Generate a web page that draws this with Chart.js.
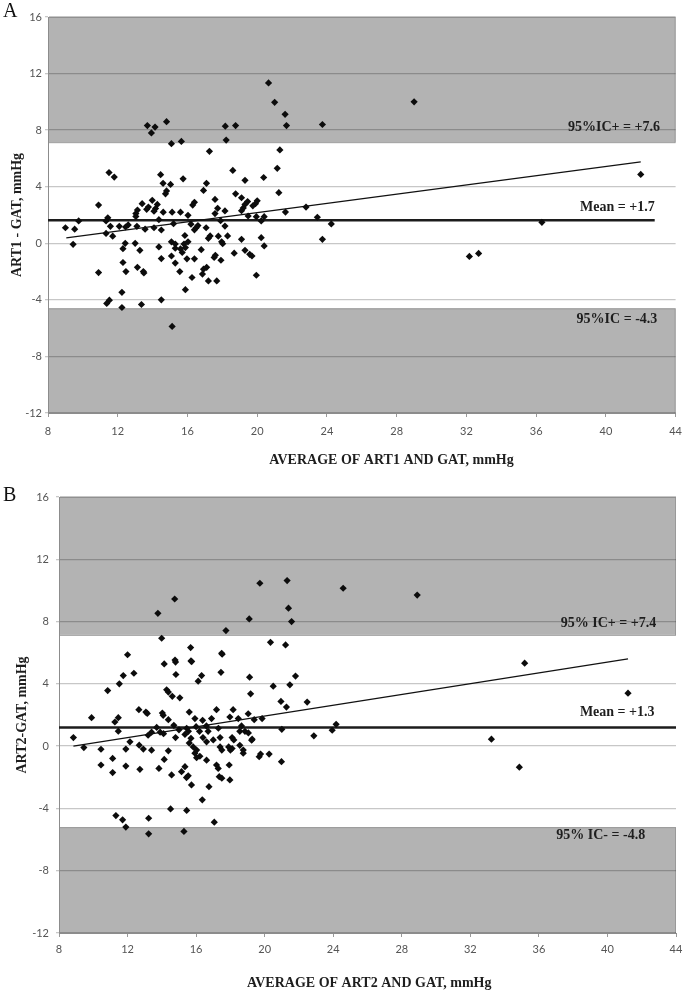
<!DOCTYPE html>
<html>
<head>
<meta charset="utf-8">
<script src="https://cdn.jsdelivr.net/npm/chart.js@4.4.1/dist/chart.umd.min.js"></script>
<style>
  html,body{margin:0;padding:0;background:#fff;}
  #wrap{position:relative;width:690px;height:992px;overflow:hidden;}
  canvas{position:absolute;left:0;}
  .panel{position:absolute;left:3px;font:20px "Liberation Serif",serif;color:#111;line-height:1;}
</style>
</head>
<body>
<div id="wrap">
  <canvas id="chartA" width="690" height="480" style="top:0"></canvas>
  <canvas id="chartB" width="690" height="512" style="top:480px"></canvas>
  <div class="panel" style="top:0px">A</div>
  <div class="panel" style="top:484px">B</div>
</div>
<script>
// ====== data: panel A (ART1 vs GAT) ======
const xA = [15.08,15.65,17.26,18.22,21.3,18.6,11.5,11.8,14.46,15.75,19.3,20.37,21.15,21.24,14.6,15.03,17.09,16.92,14.8,14.74,
  18.76,19.1,19.45,19.3,19.2,19.1,20.0,19.9,19.75,10.9,17.58,16.4,16.3,13.4,13.76,13.66,13.98,14.27,14.17,14.08,
  13.13,13.04,17.73,18.15,17.58,14.61,15.12,15.6,16.03,19.48,19.95,20.4,21.62,22.8,9.76,9.0,9.53,11.43,11.33,11.58,
  12.09,12.6,13.1,13.57,14.08,14.36,14.5,15.2,16.2,16.5,16.6,16.4,17.07,17.3,17.2,17.77,18.3,18.15,17.9,20.23,
  11.33,11.71,9.44,19.1,20.23,20.4,12.3,12.43,13.0,13.27,14.36,15.08,15.3,15.85,15.8,15.6,15.88,15.7,16.03,15.3,
  16.79,17.96,18.02,18.68,19.3,19.57,19.7,12.3,14.5,15.08,15.3,15.97,16.4,17.53,17.6,17.92,10.9,12.47,13.13,13.47,
  13.5,15.56,16.92,17.1,16.86,16.26,17.2,17.68,19.95,12.24,15.88,11.52,11.37,12.24,13.36,14.5,15.12,20.65,21.0,21.6,
  21.68,23.74,13.7,13.93,14.14,14.8,18.17,18.76,29.0,42.0,36.33,32.17,32.7,23.45,23.74,24.25,13.04,12.45];
const yA = [7.04,7.2,6.5,7.3,6.6,5.15,5.0,4.68,4.85,4.56,4.45,4.65,5.3,3.58,4.24,4.16,4.24,3.74,3.7,3.5,
  3.5,3.22,2.95,2.75,2.5,2.3,3.0,2.8,2.65,2.7,3.1,2.9,2.7,2.8,2.56,2.4,3.04,2.75,2.46,2.27,
  2.35,2.1,2.47,2.29,2.1,2.2,2.2,2.2,1.98,1.93,1.88,1.88,2.21,2.56,1.58,1.1,1.0,1.8,1.58,1.2,
  1.2,1.3,1.2,1.0,1.1,1.67,0.94,1.39,1.35,1.1,1.25,0.95,1.1,0.52,0.35,0.5,0.52,1.22,1.6,1.58,
  0.7,0.5,-0.07,0.28,0.4,-0.19,-0.38,0.0,0.0,-0.5,-0.26,0.1,-0.05,0.55,-0.05,-0.4,-0.3,-0.65,0.1,-0.35,
  -0.45,0.1,-0.03,-0.7,-0.5,-0.78,-0.9,-1.36,-1.08,-0.9,-1.4,-1.1,-1.1,-1.0,-0.85,-1.2,-2.07,-2.0,-1.7,-2.0,
  -2.1,-2.0,-1.83,-1.7,-2.18,-2.42,-2.66,-2.66,-2.26,-3.47,-3.28,-4.02,-4.25,-4.54,-4.33,-4.0,-5.88,11.34,9.97,9.12,
  8.32,8.4,8.32,7.8,8.22,8.6,8.28,8.32,10.0,4.87,1.48,-0.93,-0.72,1.84,0.28,1.37,1.9,1.15];
const meanA  = [[8, 1.62], [42.8, 1.62]];
const trendA = [[9.05, 0.38], [42.0, 5.75]];
const limitsA = [7.15, -4.6];          // shaded limits of agreement (as drawn)
const labelsA = ['95%IC+ = +7.6', 'Mean = +1.7', '95%IC = -4.3'];
const labelPosA = [[43.1, 8.2], [42.8, 2.55], [42.95, -5.4]];

// ====== data: panel B (ART2 vs GAT) ======
const xB = [12.0,14.14,14.77,14.8,15.74,17.52,17.45,14.82,11.75,12.37,16.32,16.12,19.12,11.52,10.84,20.5,21.47,21.8,14.28,14.38,
  14.61,15.05,19.18,20.95,21.27,22.48,9.9,11.26,11.46,11.46,8.84,12.66,13.07,13.15,14.03,14.08,14.38,13.7,13.4,13.2,
  13.9,14.1,14.7,14.8,15.0,15.6,15.93,16.38,16.9,17.19,18.16,17.97,18.46,19.04,19.39,19.85,15.45,15.55,15.35,15.7,
  16.0,16.2,16.6,16.7,16.4,17.3,17.4,17.0,18.1,18.2,18.65,18.55,18.85,19.05,19.24,21.0,22.87,23.94,24.17,9.45,
  10.45,12.14,11.9,12.68,12.92,13.4,14.38,15.6,15.83,16.03,15.93,16.22,16.61,16.61,17.4,17.5,17.9,18.0,18.1,18.55,
  18.75,18.75,19.68,19.76,20.26,20.98,10.45,11.13,11.13,11.9,12.72,13.83,14.14,14.57,15.15,15.35,15.44,15.54,15.73,16.03,
  17.19,17.29,17.35,17.5,17.93,17.97,16.75,16.36,14.51,15.45,11.32,11.71,11.9,13.23,13.23,15.29,17.06,13.77,14.75,13.99,
  19.72,21.31,21.39,21.57,19.1,17.74,24.58,20.34,21.22,15.68,17.49,15.7,28.9,35.17,41.2,33.23,34.86,19.27];
const yB = [5.87,5.28,5.53,5.4,5.43,5.9,4.74,4.6,4.53,4.68,4.53,4.17,4.43,4.0,3.57,3.85,3.94,4.5,3.62,3.47,
  3.2,3.1,3.36,2.87,2.51,2.83,1.83,1.55,1.83,0.96,0.55,2.34,2.19,2.1,2.13,1.98,1.7,1.2,0.9,0.7,
  0.9,0.8,1.34,0.55,1.05,2.19,1.77,1.66,1.77,2.34,2.34,1.87,1.77,2.08,1.7,1.77,1.15,0.95,0.75,0.5,
  1.25,0.95,1.3,0.95,0.55,1.15,0.55,0.4,0.55,0.4,1.3,0.95,0.95,0.85,0.38,1.08,0.66,1.02,1.4,-0.09,
  -0.2,0.28,-0.19,0.06,-0.19,-0.26,-0.3,0.2,-0.05,-0.25,-0.45,-0.65,0.28,-0.9,-0.05,-0.25,-0.05,-0.25,-0.15,0.05,
  -0.25,-0.45,-0.68,-0.51,-0.51,-1.0,-1.21,-0.79,-1.7,-1.28,-1.49,-1.43,-0.85,-1.85,-1.64,-1.32,-2.02,-1.9,-2.49,-0.74,
  -1.21,-1.43,-1.96,-2.06,-1.21,-2.17,-2.6,-3.45,-4.03,-4.13,-4.46,-4.73,-5.2,-4.63,-5.63,-5.48,-4.88,8.53,9.45,6.93,
  10.46,10.63,8.86,8.0,8.17,7.42,10.14,6.67,6.5,6.33,5.96,5.47,9.7,5.33,3.4,0.45,-1.35,0.45];
const meanB  = [[8, 1.2], [44.2, 1.2]];
const trendB = [[8.84, 0.0], [41.2, 5.6]];
const limitsB = [7.15, -5.2];
const labelsB = ['95% IC+ = +7.4', 'Mean = +1.3', '95% IC- = -4.8'];
const labelPosB = [[42.85, 7.9], [42.75, 2.15], [42.2, -5.75]];

const xTicks = [8, 12, 16, 20, 24, 28, 32, 36, 40, 44];
const yTicks = [-12, -8, -4, 0, 4, 8, 12, 16];

const serifBold = { family: '"Liberation Serif", "DejaVu Serif", serif', weight: 'bold', size: 14 };
const tickFont  = { family: 'Lato, "Open Sans", sans-serif', size: 11 };

// ====== 帯（一致限界）と注記 ======
const bandPlugin = {
  id: 'bands',
  beforeDraw(chart, args, o){
    const {ctx, chartArea:a, scales:{x, y}} = chart;
    const top = y.getPixelForValue(yTicks[yTicks.length-1]);
    const bot = y.getPixelForValue(yTicks[0]);
    const hi = y.getPixelForValue(o.limits[0]);
    const lo = y.getPixelForValue(o.limits[1]);
    ctx.save();
    ctx.fillStyle = '#b3b3b3';
    ctx.strokeStyle = '#999';
    ctx.lineWidth = 1;
    ctx.fillRect(a.left, top, a.right - a.left, hi - top);
    ctx.strokeRect(a.left + 0.5, top + 0.5, a.right - a.left - 1, hi - top);
    ctx.fillRect(a.left, lo, a.right - a.left, bot - lo);
    ctx.strokeRect(a.left + 0.5, lo + 0.5, a.right - a.left - 1, bot - lo);
    ctx.restore();
  },
  afterDraw(chart, args, o){
    const {ctx, scales:{x, y}} = chart;
    ctx.save();
    ctx.font = 'bold 14px "Liberation Serif", serif';
    ctx.fillStyle = '#1e1e1e';
    ctx.textAlign = 'right';
    ctx.textBaseline = 'middle';
    o.labels.forEach((t, i) => {
      ctx.fillText(t, x.getPixelForValue(o.pos[i][0]), y.getPixelForValue(o.pos[i][1]));
    });
    // x軸タイトル（元図では少し右寄り）
    ctx.textAlign = 'center';
    ctx.fillText(o.xTitle, x.getPixelForValue(o.xTitleAt), chart.height - o.xTitleUp);
    ctx.restore();
  }
};

function makeChart(id, c){
  const pts = c.xs.map((v, i) => ({ x: v, y: c.ys[i] }));
  const line = arr => arr.map(p => ({ x: p[0], y: p[1] }));
  return new Chart(document.getElementById(id), {
    type: 'scatter',
    data: {
      datasets: [
        { type:'line', data: line(c.mean),  borderColor:'#1c1c1c', borderWidth:2.5, pointRadius:0, order:3 },
        { type:'line', data: line(c.trend), borderColor:'#111', borderWidth:1.2, pointRadius:0, order:2 },
        { data: pts, pointStyle:'rectRot', pointRadius:3.6, backgroundColor:'#0c0c0c', borderWidth:0, order:1 }
      ]
    },
    plugins: [bandPlugin],
    options: {
      responsive: false,
      animation: false,
      devicePixelRatio: 1,
      layout: { padding: { left:0, right:c.padRight, top:17, bottom:0 } },
      plugins: {
        legend: { display:false },
        tooltip: { enabled:false },
        bands: { limits: c.limits, labels: c.labels, pos: c.labelPos,
                 xTitle: c.xTitle, xTitleAt: c.xTitleAt, xTitleUp: c.xTitleUp }
      },
      scales: {
        x: {
          type:'linear', min: xTicks[0], max: xTicks[xTicks.length-1],
          afterBuildTicks: s => { s.ticks = xTicks.map(v => ({ value:v })); },
          afterFit: s => { s.height = c.xh; },
          ticks: { color:'#555', font: tickFont, padding: c.xTickPad, maxRotation:0 },
          grid: { drawOnChartArea:false, drawTicks:true, tickLength:4, color:'#999' },
          border: { color:'#8c8c8c' },
          title: { display:false }
        },
        y: {
          min: yTicks[0], max: yTicks[yTicks.length-1],
          afterBuildTicks: s => { s.ticks = yTicks.map(v => ({ value:v })); },
          afterFit: s => { s.width = c.yw; },
          ticks: { color:'#555', font: tickFont, padding: c.yTickPad },
          grid: { color:'rgba(0,0,0,0.22)', tickLength:3, lineWidth:1.3 },
          border: { color:'#8c8c8c' },
          title: { display:true, text:c.yTitle, color:'#1e1e1e', font: serifBold, padding:{ top:c.yTitlePad, bottom:0 } }
        }
      }
    }
  });
}

makeChart('chartA', {
  xs:xA, ys:yA, mean:meanA, trend:trendA, limits:limitsA, labels:labelsA, labelPos:labelPosA,
  xTitle:'AVERAGE OF ART1 AND GAT, mmHg', yTitle:'ART1 - GAT, mmHg', xTitleAt:27.7, xTitleUp:20,
  padRight:8, xh:67, yw:48, xTickPad:8, yTickPad:3, yTitlePad:9
});
makeChart('chartB', {
  xs:xB, ys:yB, mean:meanB, trend:trendB, limits:limitsB, labels:labelsB, labelPos:labelPosB,
  xTitle:'AVERAGE OF ART2 AND GAT, mmHg', yTitle:'ART2-GAT, mmHg', xTitleAt:26.1, xTitleUp:9,
  padRight:14, xh:59, yw:59, xTickPad:6, yTickPad:7, yTitlePad:14
});
</script>
</body>
</html>
